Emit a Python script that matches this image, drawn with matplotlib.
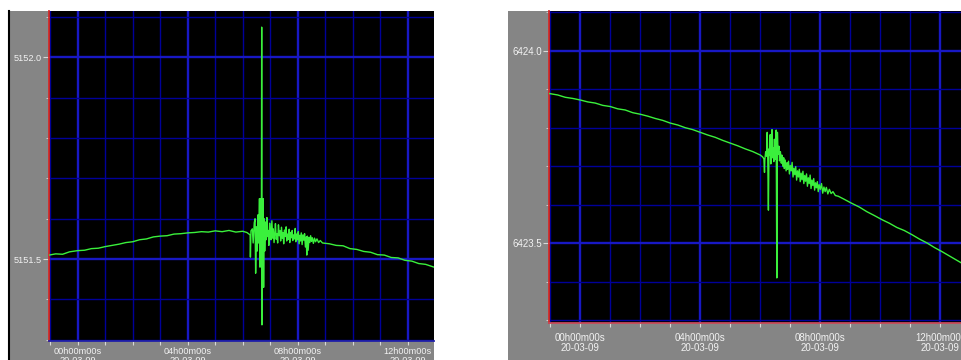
import matplotlib
matplotlib.use("Agg")
import matplotlib.pyplot as plt
from matplotlib.patches import Rectangle
from matplotlib.lines import Line2D
from matplotlib.ticker import MultipleLocator, FuncFormatter

plt.rcParams["font.family"] = ["Liberation Sans", "DejaVu Sans"]

DATE = "20-03-09"

# left record: hours vs. value
left_hours = [-1.04, -0.80, -0.55, -0.30, 0.00, 0.25, 0.50, 0.75, 1.00, 1.25, 1.50, 1.75,
              2.00, 2.25, 2.50, 2.75, 3.00, 3.25, 3.50, 3.75, 4.00, 4.25, 4.50, 4.75, 5.00,
              5.25, 5.50, 5.75, 6.00, 6.15,
              6.27, 6.28, 6.30, 6.35, 6.38, 6.42, 6.45, 6.47, 6.50, 6.53, 6.56, 6.58,
              6.61, 6.63, 6.66, 6.68, 6.69, 6.70, 6.71, 6.74, 6.76, 6.78,
              6.80, 6.83, 6.85, 6.88, 6.90, 6.93, 6.95, 6.98, 7.01, 7.03, 7.06, 7.09, 7.11,
              7.14, 7.17, 7.19, 7.22, 7.25, 7.27, 7.30, 7.33, 7.36, 7.38, 7.41, 7.44, 7.47,
              7.49, 7.52, 7.55, 7.58, 7.60, 7.63, 7.66, 7.69, 7.71, 7.74, 7.77, 7.80, 7.82,
              7.85, 7.88, 7.91, 7.93, 7.96, 7.99, 8.02, 8.05, 8.08, 8.10, 8.13, 8.16, 8.19,
              8.22, 8.25, 8.28, 8.31, 8.33, 8.35, 8.38, 8.41, 8.44, 8.47, 8.50, 8.53, 8.57,
              8.61, 8.65, 8.70, 8.76, 8.82,
              8.90, 9.15, 9.40, 9.65, 9.90, 10.15, 10.40, 10.65, 10.90, 11.15, 11.40, 11.65,
              11.90, 12.15, 12.40, 12.65, 12.96]
left_values = [5151.510, 5151.513, 5151.512, 5151.518, 5151.521, 5151.522, 5151.526, 5151.527,
               5151.531, 5151.534, 5151.537, 5151.541, 5151.543, 5151.548, 5151.550, 5151.555,
               5151.557, 5151.558, 5151.562, 5151.563, 5151.565, 5151.566, 5151.568, 5151.567,
               5151.570, 5151.568, 5151.571, 5151.567, 5151.569, 5151.566,
               5151.560, 5151.505, 5151.570, 5151.575, 5151.540, 5151.590, 5151.600, 5151.465,
               5151.580, 5151.520, 5151.610, 5151.540, 5151.650, 5151.480, 5151.650, 5151.560,
               5152.075, 5151.337, 5151.560, 5151.650, 5151.430, 5151.600,
               5151.520, 5151.592, 5151.548, 5151.603, 5151.556, 5151.571, 5151.534, 5151.589,
               5151.560, 5151.548, 5151.595, 5151.552, 5151.575, 5151.541, 5151.566, 5151.588,
               5151.549, 5151.563, 5151.540, 5151.585, 5151.558, 5151.570, 5151.545, 5151.579,
               5151.552, 5151.566, 5151.538, 5151.572, 5151.556, 5151.580, 5151.545, 5151.562,
               5151.549, 5151.574, 5151.541, 5151.566, 5151.553, 5151.571, 5151.546, 5151.560,
               5151.550, 5151.576, 5151.543, 5151.562, 5151.548, 5151.568, 5151.538, 5151.559,
               5151.545, 5151.565, 5151.536, 5151.560, 5151.547, 5151.563, 5151.530, 5151.555,
               5151.510, 5151.557, 5151.522, 5151.554, 5151.541, 5151.558, 5151.544, 5151.553,
               5151.539, 5151.552, 5151.543, 5151.550, 5151.541, 5151.546,
               5151.540, 5151.538, 5151.534, 5151.533, 5151.526, 5151.524, 5151.519, 5151.517,
               5151.511, 5151.510, 5151.504, 5151.503, 5151.497, 5151.495, 5151.489, 5151.487,
               5151.480]

# right record
right_hours = [-1.05, -0.75, -0.50, -0.25, 0.00, 0.25, 0.50, 0.75, 1.00, 1.25, 1.50, 1.75,
               2.00, 2.25, 2.50, 2.75, 3.00, 3.25, 3.50, 3.75, 4.00, 4.25, 4.50, 4.75, 5.00,
               5.25, 5.50, 5.75,
               6.00, 6.08, 6.12, 6.14, 6.15, 6.18, 6.21, 6.23, 6.25, 6.27, 6.29, 6.31, 6.33,
               6.35, 6.37, 6.39, 6.41, 6.43, 6.45, 6.47, 6.49, 6.51, 6.53, 6.55, 6.57, 6.59,
               6.62, 6.64, 6.67, 6.70, 6.72, 6.75, 6.78, 6.80, 6.83, 6.86, 6.89, 6.91, 6.94,
               6.97, 7.00, 7.03, 7.06, 7.09, 7.12, 7.15, 7.18, 7.21, 7.24, 7.27, 7.30, 7.33,
               7.36, 7.39, 7.42, 7.45, 7.48, 7.51, 7.54, 7.57, 7.60, 7.63, 7.66, 7.69, 7.72,
               7.75, 7.78, 7.81, 7.84, 7.87, 7.90, 7.93, 7.96, 8.00, 8.04, 8.08, 8.12, 8.16,
               8.20, 8.25, 8.30, 8.36, 8.42, 8.50,
               8.60, 8.80, 9.04, 9.30, 9.55, 9.80, 10.06, 10.30, 10.55, 10.80, 11.06, 11.30,
               11.55, 11.80, 12.06, 12.30, 12.50, 12.72]
right_values = [6423.889, 6423.885, 6423.879, 6423.876, 6423.872, 6423.867, 6423.864, 6423.858,
                6423.855, 6423.849, 6423.846, 6423.839, 6423.835, 6423.830, 6423.824, 6423.819,
                6423.812, 6423.807, 6423.800, 6423.795, 6423.788, 6423.781, 6423.775, 6423.767,
                6423.760, 6423.753, 6423.745, 6423.738,
                6423.729, 6423.724, 6423.719, 6423.684, 6423.716, 6423.738, 6423.726, 6423.788,
                6423.712, 6423.586, 6423.745, 6423.728, 6423.782, 6423.706, 6423.760, 6423.795,
                6423.722, 6423.748, 6423.712, 6423.770, 6423.718, 6423.742, 6423.794, 6423.410,
                6423.788, 6423.731, 6423.752, 6423.714, 6423.738, 6423.708, 6423.729, 6423.700,
                6423.722, 6423.694, 6423.716, 6423.688, 6423.709, 6423.692, 6423.713, 6423.680,
                6423.702, 6423.688, 6423.710, 6423.672, 6423.695, 6423.678, 6423.699, 6423.664,
                6423.688, 6423.672, 6423.692, 6423.660, 6423.682, 6423.665, 6423.687, 6423.655,
                6423.676, 6423.661, 6423.680, 6423.648, 6423.670, 6423.655, 6423.677, 6423.642,
                6423.664, 6423.650, 6423.668, 6423.638, 6423.657, 6423.644, 6423.660, 6423.634,
                6423.652, 6423.640, 6423.655, 6423.630, 6423.646, 6423.634, 6423.645, 6423.628,
                6423.640, 6423.629, 6423.634, 6423.624,
                6423.622, 6423.614, 6423.604, 6423.594, 6423.582, 6423.572, 6423.561, 6423.552,
                6423.541, 6423.533, 6423.522, 6423.511, 6423.501, 6423.489, 6423.478, 6423.467,
                6423.458, 6423.448]

W, H = 962, 360
GRAY = "#858585"
TXT = "#f2f2f2"


def px(x0, y0, x1, y1):
    # pixel box (top-left origin) -> figure fraction rect
    return [x0 / W, 1 - y1 / H, (x1 - x0) / W, (y1 - y0) / H]


def hour_label(h, pos):
    return f"{int(round(h)):02d}h00m00s\n{DATE}"


def scope_panel(fig, rect, hours, values, xlim, ylim, bottom_color, fs, xpad):
    ax = fig.add_axes(rect)
    ax.set_facecolor("black")
    ax.plot(hours, values, color="#3af03c", lw=1.0, zorder=3)
    ax.set_xlim(*xlim)
    ax.set_ylim(*ylim)
    ax.xaxis.set_major_locator(MultipleLocator(4))
    ax.xaxis.set_minor_locator(MultipleLocator(1))
    ax.yaxis.set_major_locator(MultipleLocator(0.5))
    ax.yaxis.set_minor_locator(MultipleLocator(0.1))
    ax.xaxis.set_major_formatter(FuncFormatter(hour_label))
    ax.yaxis.set_major_formatter(FuncFormatter(lambda v, p: f"{v:.1f}"))
    ax.grid(which="minor", color="#00009a", lw=1.0, zorder=1)
    ax.grid(which="major", color="#1818c4", lw=1.7, zorder=1)
    ax.set_axisbelow(True)
    ax.tick_params(which="both", colors="#d8d8d8", labelcolor=TXT, labelsize=fs)
    ax.tick_params(axis="x", which="both", length=3, width=0.8, pad=xpad)
    ax.tick_params(axis="y", which="major", length=4, width=0.8, pad=1)
    ax.tick_params(axis="y", which="minor", length=2, width=0.6)
    for lab in ax.get_xticklabels():
        lab.set_linespacing(0.95)
    ax.spines["top"].set_visible(False)
    ax.spines["right"].set_visible(False)
    ax.spines["left"].set_color("#d42a2a")
    ax.spines["left"].set_linewidth(1.3)
    ax.spines["bottom"].set_color(bottom_color)
    ax.spines["bottom"].set_linewidth(1.3)
    return ax


fig = plt.figure(figsize=(W / 100, H / 100), dpi=100)
fig.patch.set_facecolor("white")

# grey frames behind the plots
fig.add_artist(Rectangle((9 / W, 0), (434 - 9) / W, 349 / H, transform=fig.transFigure,
                         facecolor=GRAY, edgecolor="none", zorder=0))
fig.add_artist(Rectangle((508 / W, 0), (W - 508) / W, 349 / H, transform=fig.transFigure,
                         facecolor=GRAY, edgecolor="none", zorder=0))
fig.add_artist(Line2D([8.5 / W, 8.5 / W], [0, 349 / H], transform=fig.transFigure,
                      color="black", lw=1.5, zorder=1))

scope_panel(fig, px(49, 11, 434, 341), left_hours, left_values,
            (-1.044, 12.956), (5151.297, 5152.115), "#2020a8", 6.6, 1.5)
scope_panel(fig, px(548.7, 11, 962, 323), right_hours, right_values,
            (-1.05, 12.72), (6423.293, 6424.103), "#c84a5a", 7.0, 4.5)

fig.savefig("out.png", dpi=100, facecolor=fig.get_facecolor())
